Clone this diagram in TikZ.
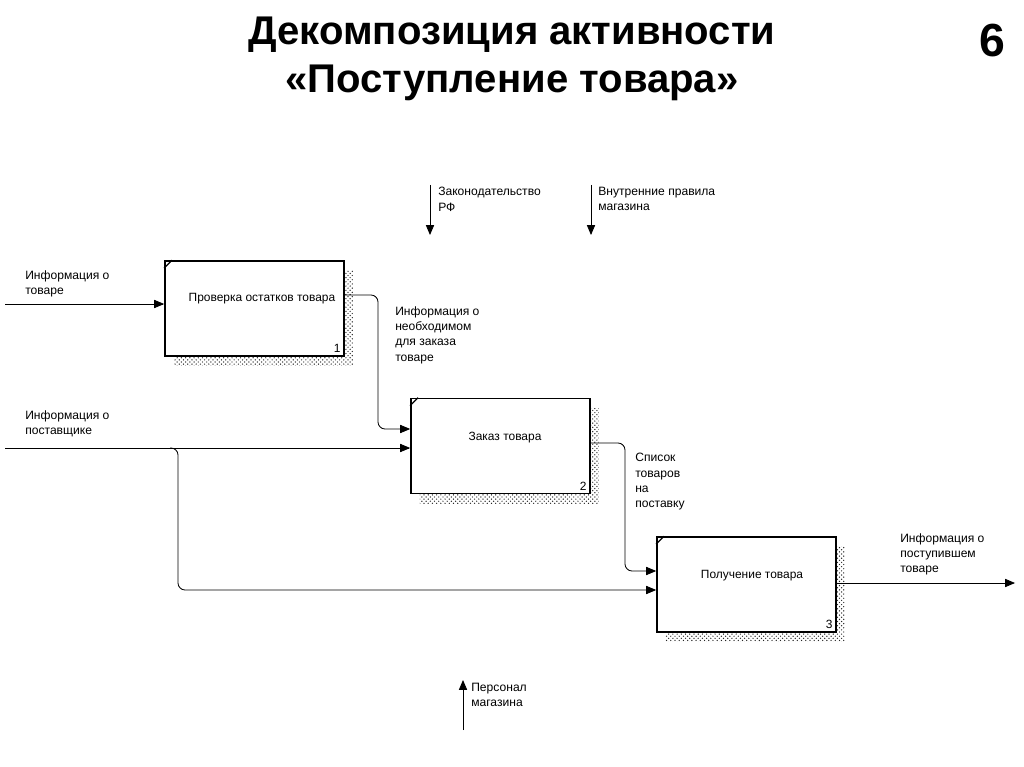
\documentclass[tikz,border=0pt]{standalone}
\usepackage{fontspec}
\setmainfont{Liberation Sans}
\usetikzlibrary{arrows, patterns, shadows, calc}
\tikzstyle{activity} = [rectangle, draw=black, line width=1.2pt, fill=white, minimum width=4.475cm, minimum height=2.375cm, inner sep=0pt, general shadow={shadow xshift=0.22cm, shadow yshift=-0.24cm, pattern=crosshatch dots, pattern color=black!85}]
\tikzstyle{boxtext} = [inner sep=0pt, font=\fontsize{8.5}{10.7}\selectfont]
\tikzstyle{label} = [align=left, anchor=north west, inner sep=0pt, font=\fontsize{8.6}{10.9}\selectfont]
\tikzstyle{arrow} = [line width=0.6pt,->,>=triangle 45]

\begin{document}
\begin{tikzpicture}[x=0.025cm, y=-0.025cm]
\useasboundingbox (0,0) rectangle (1024,767);
\node (title) [align=center, font=\fontsize{28.5}{34.5}\selectfont\bfseries] at (512,59) {Декомпозиция активности\\«Поступление товара»};
\node (page) [font=\fontsize{33}{33}\selectfont\bfseries] at (992,41) {6};

% activity boxes
\node (prov) [activity] at (254.5,308.5) {};
\node (zakaz) [activity] at (500.5,446) {};
\node (poluch) [activity] at (746.5,584.5) {};
\draw [line width=0.8pt] ($(prov.north west)+(0,8)$) -- ++(8,-8);
\draw [line width=0.8pt] ($(zakaz.north west)+(0,8)$) -- ++(8,-8);
\draw [line width=0.8pt] ($(poluch.north west)+(0,8)$) -- ++(8,-8);
\node (provtxt) [boxtext] at (262,299) {Проверка остатков товара};
\node (zakaztxt) [boxtext] at (505,438) {Заказ товара};
\node (poluchtxt) [boxtext] at (752,576) {Получение товара};
\node (provnum) [boxtext, anchor=south east] at ($(prov.south east)+(-4,-4)$) {1};
\node (zakaznum) [boxtext, anchor=south east] at ($(zakaz.south east)+(-4,-4)$) {2};
\node (poluchnum) [boxtext, anchor=south east] at ($(poluch.south east)+(-4,-4)$) {3};

% free ends
\coordinate (intovar) at (5,304);
\coordinate (inpost) at (5,448);
\coordinate (split) at (170,448);
\coordinate (out1) at (378,295);
\coordinate (out2) at (625,443);
\coordinate (out3) at (1015,583);
\coordinate (zakon) at (430,185);
\coordinate (pravila) at (591,185);
\coordinate (personal) at (463,730);

% arrows
\draw [arrow] (intovar) -- (prov.west |- intovar);
\draw [arrow] (inpost) -- (zakaz.west |- inpost);
\draw [arrow, rounded corners=5] (split) -- ++(8,0) |- ($(poluch.west)+(0,5.5)$);
\draw [arrow, rounded corners=5] (prov.east |- out1) -- (out1) |- ($(zakaz.west)+(0,-17)$);
\draw [arrow, rounded corners=5] (zakaz.east |- out2) -- (out2) |- ($(poluch.west)+(0,-13.5)$);
\draw [arrow] (poluch.east |- out3) -- (out3);
\draw [arrow] (zakon) -- ++(0,50);
\draw [arrow] (pravila) -- ++(0,50);
\draw [arrow] (personal) -- ++(0,-50);

% labels
\node (lintovar) [label] at (25,270) {Информация о\\товаре};
\node (linpost) [label] at (25,410) {Информация о\\поставщике};
\node (lout1) [label] at (395,306) {Информация о\\необходимом\\для заказа\\товаре};
\node (lout2) [label] at (635,453) {Список\\товаров\\на\\поставку};
\node (lout3) [label] at (900,533) {Информация о\\поступившем\\товаре};
\node (lzakon) [label] at (438,187) {Законодательство\\РФ};
\node (lpravila) [label] at (598,187) {Внутренние правила\\магазина};
\node (lpersonal) [label] at (471,683) {Персонал\\магазина};
\end{tikzpicture}
\end{document}
